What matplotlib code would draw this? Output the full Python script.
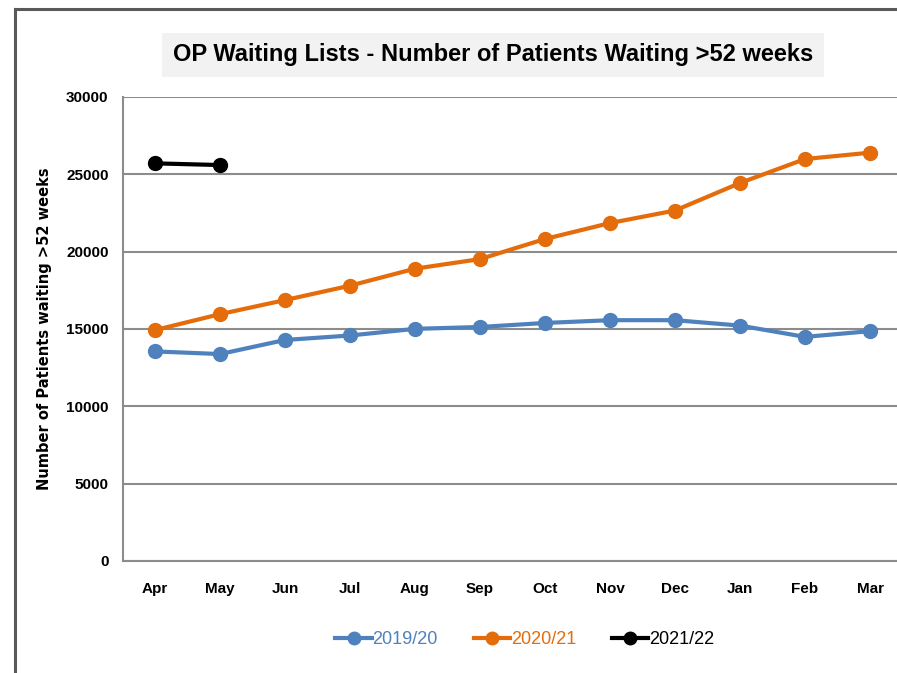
import matplotlib
matplotlib.use('Agg')
import matplotlib.pyplot as plt
from matplotlib.lines import Line2D

plt.rcParams['font.family'] = ['Liberation Sans', 'DejaVu Sans']

# Data
months = ['Apr', 'May', 'Jun', 'Jul', 'Aug', 'Sep', 'Oct', 'Nov', 'Dec', 'Jan', 'Feb', 'Mar']
wait_1920 = [13550, 13380, 14290, 14580, 15010, 15130, 15390, 15570, 15570, 15220, 14490, 14860]
wait_2021 = [14930, 15960, 16870, 17800, 18900, 19520, 20820, 21850, 22660, 24440, 25990, 26400]
wait_2122 = [25710, 25600]

blue = '#4F81BD'
orange = '#E46C0A'
grid_col = '#8C8C8C'

fig = plt.figure(figsize=(8.97, 6.73), dpi=100)
ax = fig.add_axes([122.5 / 897, 112 / 673, 780 / 897, 464 / 673])

x = list(range(len(months)))
ax.plot(x, wait_1920, color=blue, lw=3, marker='o', ms=10, label='2019/20')
ax.plot(x, wait_2021, color=orange, lw=3, marker='o', ms=10, label='2020/21')
ax.plot(x[:len(wait_2122)], wait_2122, color='black', lw=3, marker='o', ms=10, label='2021/22')

ax.set_xlim(-0.5, 11.5)
ax.set_ylim(0, 30000)
ax.set_yticks(range(0, 30001, 5000))
ax.set_xticks(x)
ax.set_xticklabels(months)
ax.yaxis.grid(True, color=grid_col, lw=1.5)
ax.set_axisbelow(True)
for s in ['top', 'right']:
    ax.spines[s].set_visible(False)
ax.spines['left'].set_color(grid_col)
ax.spines['bottom'].set_color(grid_col)
ax.spines['left'].set_linewidth(1.5)
ax.spines['bottom'].set_linewidth(1.5)
ax.tick_params(length=0, labelsize=11, pad=10)
ax.tick_params(axis='x', pad=15)
for lab in ax.get_xticklabels() + ax.get_yticklabels():
    lab.set_fontweight('bold')

fig.text(45 / 897, 1 - 329 / 673, 'Number of Patients waiting >52 weeks', rotation=90,
         ha='center', va='center', fontsize=10.5, fontweight='bold', family=['DejaVu Sans'])

fig.text(493 / 897, 1 - 55 / 673, 'OP Waiting Lists - Number of Patients Waiting >52 weeks',
         ha='center', va='center', fontsize=17, fontweight='bold',
         bbox=dict(boxstyle='square,pad=0.45', fc='#F2F2F2', ec='none'))

ax.legend(loc='center', bbox_to_anchor=(525 / 897, 1 - 640 / 673),
          bbox_transform=fig.transFigure, ncol=3, frameon=False,
          fontsize=13, labelcolor='linecolor', handlelength=2.0,
          handletextpad=0.05, columnspacing=2.0, markerscale=0.9)

# outer frame of the slide
fig.add_artist(Line2D([15 / 897, 15 / 897], [0, 1 - 9 / 673], transform=fig.transFigure,
                      color='#595959', lw=2.2))
fig.add_artist(Line2D([15 / 897, 1], [1 - 9 / 673, 1 - 9 / 673], transform=fig.transFigure,
                      color='#595959', lw=2.2))

fig.savefig('out.png', dpi=100)
